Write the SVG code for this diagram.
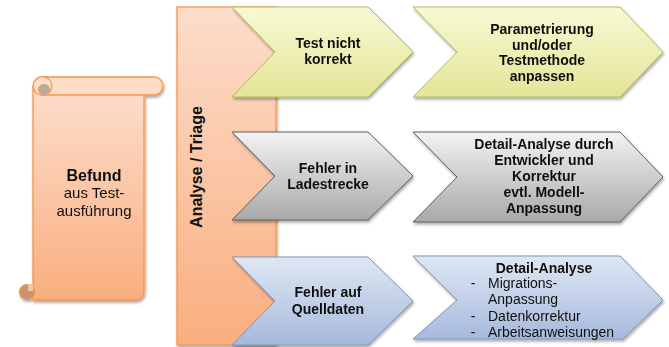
<svg xmlns="http://www.w3.org/2000/svg" width="669" height="347" viewBox="0 0 669 347">
<defs>
  <linearGradient id="gOrange" x1="0" y1="0" x2="0" y2="1">
    <stop offset="0" stop-color="#FDDDCB"/>
    <stop offset="1" stop-color="#F9AE7F"/>
  </linearGradient>
  <linearGradient id="gYellow" x1="0" y1="0" x2="0" y2="1">
    <stop offset="0" stop-color="#F8F9D3"/>
    <stop offset="1" stop-color="#E3E598"/>
  </linearGradient>
  <linearGradient id="gGray" x1="0" y1="0" x2="0" y2="1">
    <stop offset="0" stop-color="#F3F3F3"/>
    <stop offset="1" stop-color="#A9A9A9"/>
  </linearGradient>
  <linearGradient id="gBlue" x1="0" y1="0" x2="0" y2="1">
    <stop offset="0" stop-color="#DFE7F3"/>
    <stop offset="1" stop-color="#A6B9DD"/>
  </linearGradient>
  <filter id="sh" x="-10%" y="-10%" width="125%" height="125%">
    <feDropShadow dx="1" dy="2" stdDeviation="1.5" flood-color="#000" flood-opacity="0.35"/>
  </filter>
  <style>
    text { font-family: "Liberation Sans", Arial, sans-serif; fill: #111; text-anchor: middle; }
    .b { font-weight: bold; font-size: 14px; }
    .r { font-size: 14px; }
    .yel { fill: url(#gYellow); stroke: #B3BC5A; stroke-width: 1; }
    .gry { fill: url(#gGray); stroke: #5E5E5E; stroke-width: 1; }
    .blu { fill: url(#gBlue); stroke: #7D95C4; stroke-width: 1; }
    .org { fill: url(#gOrange); stroke: #F79646; stroke-width: 1.3; }
  </style>
</defs>

<g id="befund" filter="url(#sh)">
  <path class="org" d="M33,88 V300 H136 A8,8 0 0 0 144,292 V92 Z"/>
  <circle cx="27" cy="292" r="7.5" fill="#C99372" stroke="#F79646" stroke-width="1.2"/>
  <rect x="28" y="284" width="5" height="7" fill="#F7C3A1"/>
  <rect class="org" x="33" y="77" width="130" height="18" rx="9" ry="9" style="fill:#FDDCC8"/>
  <circle cx="42.5" cy="86" r="9.3" fill="#FDDCC8" stroke="#F79646" stroke-width="1.2"/>
  <ellipse cx="44" cy="89.5" rx="6" ry="5.5" fill="#BEA898"/>
  <text x="94" y="181" style="font-weight:bold;font-size:16px">Befund</text>
  <text x="94" y="198" style="font-size:15px">aus Test-</text>
  <text x="94" y="216" style="font-size:15px">ausführung</text>
</g>

<g id="analyse">
  <rect class="org" x="177" y="7" width="99" height="338" filter="url(#sh)"/>
  <text transform="translate(202,167) rotate(-90)" style="font-weight:bold;font-size:16px">Analyse / Triage</text>
</g>

<g id="test-nicht-korrekt" filter="url(#sh)">
  <path class="yel" d="M232,7 H368 L413,52 L368,97 H232 L275,52 Z"/>
  <text class="b" x="328" y="48">Test nicht</text>
  <text class="b" x="328" y="64">korrekt</text>
</g>

<g id="parametrierung" filter="url(#sh)">
  <path class="yel" d="M413,7 H620 L663,52 L620,97 H413 L457,52 Z"/>
  <text class="b" x="542" y="34">Parametrierung</text>
  <text class="b" x="542" y="49.5">und/oder</text>
  <text class="b" x="542" y="65">Testmethode</text>
  <text class="b" x="542" y="80.5">anpassen</text>
</g>

<g id="fehler-ladestrecke" filter="url(#sh)">
  <path class="gry" d="M232,132 H368 L413,176 L368,220 H232 L275,176 Z"/>
  <text class="b" x="328" y="173">Fehler in</text>
  <text class="b" x="328" y="189">Ladestrecke</text>
</g>

<g id="detail-entwickler" filter="url(#sh)">
  <path class="gry" d="M413,132 H620 L663,177 L620,222 H413 L457,177 Z"/>
  <text class="b" x="544" y="149">Detail-Analyse durch</text>
  <text class="b" x="544" y="165">Entwickler und</text>
  <text class="b" x="544" y="181">Korrektur</text>
  <text class="b" x="544" y="197">evtl. Modell-</text>
  <text class="b" x="544" y="213">Anpassung</text>
</g>

<g id="fehler-quelldaten" filter="url(#sh)">
  <path class="blu" d="M232,257 H368 L413,301 L368,345 H232 L275,301 Z"/>
  <text class="b" x="328" y="297">Fehler auf</text>
  <text class="b" x="328" y="314">Quelldaten</text>
</g>

<g id="detail-analyse-daten" filter="url(#sh)">
  <path class="blu" d="M413,256 H620 L663,300 L623,339 H413 L457,300 Z"/>
  <text class="b" x="544" y="273">Detail-Analyse</text>
  <g class="r">
    <text x="473" y="288">-</text>
    <text x="488" y="288" style="text-anchor:start">Migrations-</text>
    <text x="488" y="304" style="text-anchor:start">Anpassung</text>
    <text x="473" y="321">-</text>
    <text x="488" y="321" style="text-anchor:start">Datenkorrektur</text>
    <text x="473" y="337">-</text>
    <text x="488" y="337" style="text-anchor:start">Arbeitsanweisungen</text>
  </g>
</g>

<g id="connectors"></g>
</svg>
